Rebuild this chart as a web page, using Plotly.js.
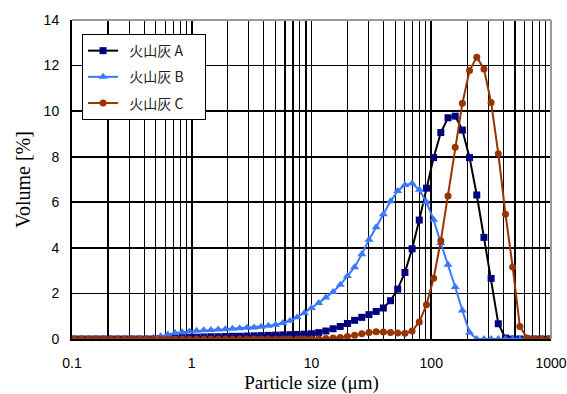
<!DOCTYPE html>
<html>
<head>
<meta charset="utf-8">
<script src="https://cdn.plot.ly/plotly-3.0.1.min.js"></script>
<style>html,body{margin:0;padding:0;background:#fff;}#chart{width:567px;height:394px;}</style>
</head>
<body>
<div id="chart"></div>
<script>
// particle size channels (µm)
const sizes = [0.1047,0.1202,0.1380,0.1585,0.1820,0.2089,0.2399,0.2754,0.3162,0.3631,
  0.4169,0.4786,0.5495,0.6310,0.7244,0.8318,0.9550,1.096,1.259,1.445,
  1.660,1.905,2.188,2.512,2.884,3.311,3.802,4.365,5.012,5.754,
  6.607,7.586,8.710,10.00,11.48,13.18,15.14,17.38,19.95,22.91,
  26.30,30.20,34.67,39.81,45.71,52.48,60.26,69.18,79.43,91.20,
  104.7,120.2,138.0,158.5,182.0,208.9,239.9,275.4,316.2,363.1,
  416.9,478.6,549.5,631.0,724.4,831.8,955.0];

const seriesNames = ['火山灰 A','火山灰 B','火山灰 C'];

const volA = [0,0,0,0,0,0,0,0,0,0,
  0,0,0.02,0.04,0.05,0.06,0.07,0.08,0.09,0.10,
  0.10,0.11,0.12,0.12,0.13,0.14,0.15,0.16,0.17,0.18,
  0.19,0.20,0.21,0.23,0.28,0.35,0.45,0.55,0.68,0.82,
  0.95,1.07,1.21,1.36,1.68,2.19,2.92,3.96,5.22,6.62,
  7.96,9.06,9.71,9.78,9.17,7.96,6.32,4.46,2.66,0.67,
  0.04,0,0,0,0,0,0];

const volB = [0,0,0,0,0,0,0,0,0,0,
  0,0.05,0.12,0.20,0.26,0.30,0.33,0.36,0.38,0.40,
  0.42,0.43,0.45,0.47,0.49,0.51,0.54,0.58,0.63,0.70,
  0.80,0.95,1.14,1.36,1.58,1.82,2.06,2.38,2.76,3.15,
  3.72,4.36,4.90,5.48,6.04,6.50,6.76,6.82,6.55,6.00,
  5.23,4.21,3.26,2.28,1.25,0.29,0,0,0,0,
  0,0,0,0,0,0,0];

const volC = [0,0,0,0,0,0,0,0,0,0,
  0,0,0,0,0,0,0,0,0,0,
  0,0,0,0,0,0,0,0,0,0,
  0,0,0,0,0.01,0.02,0.04,0.07,0.11,0.17,
  0.23,0.29,0.32,0.31,0.29,0.26,0.25,0.35,0.75,1.50,
  2.67,4.31,6.28,8.42,10.35,11.78,12.37,11.85,10.38,8.13,
  5.48,3.16,0.55,0.04,0,0,0];

const xTicks = [0.1,1,10,100,1000];
const xTickText = ['0.1','1','10','100','1000'];
const xMinor = [0.2,0.3,0.4,0.5,0.6,0.7,0.8,0.9,2,3,4,5,6,7,8,9,20,30,40,50,60,70,80,90,200,300,400,500,600,700,800,900];
const yTicks = [0,2,4,6,8,10,12,14];

const pad = s => '\u00a0\u00a0' + s.replace(' ', '\u00a0') + '\u00a0\u00a0\u00a0\u00a0\u00a0';

const traces = [
  {x: sizes, y: volA, name: pad(seriesNames[0]), type: 'scatter', mode: 'lines+markers',
   line: {color: '#000000', width: 2}, legendgroup: 'a',
   marker: {symbol: 'square', size: 7, color: '#000080'}},
  {x: sizes, y: volB, name: pad(seriesNames[1]), type: 'scatter', mode: 'lines+markers',
   line: {color: '#3a78ff', width: 2}, legendgroup: 'b',
   marker: {symbol: 'triangle-up', size: 8, color: '#3a78ff'}},
  {x: sizes, y: volC, name: pad(seriesNames[2]), type: 'scatter', mode: 'lines+markers',
   line: {color: '#993300', width: 2}, legendgroup: 'c',
   marker: {symbol: 'circle', size: 7, color: '#993300'}}
];

const layout = {
  width: 567, height: 394,
  margin: {l: 72, r: 16, t: 20, b: 55},
  paper_bgcolor: '#ffffff', plot_bgcolor: '#ffffff',
  showlegend: true,
  legend: {x: 0.021, y: 0.956, xanchor: 'left', yanchor: 'top',
    bgcolor: '#ffffff', bordercolor: '#000000', borderwidth: 1,
    font: {family: '"Noto Sans CJK JP", sans-serif', size: 14, color: '#222'},
    traceorder: 'grouped', tracegroupgap: 5},
  xaxis: {
    type: 'log', range: [-1, 3],
    tickmode: 'array', tickvals: xTicks, ticktext: xTickText,
    showgrid: true, gridcolor: '#000000', gridwidth: 1.8,
    minor: {tickmode: 'array', tickvals: xMinor, showgrid: true, gridcolor: '#000000', gridwidth: 1.2, ticks: ''},
    showline: true, linecolor: '#000000', linewidth: 2, mirror: false,
    ticks: '', zeroline: false, ticklabelstandoff: 10,
    tickfont: {family: '"Liberation Sans", Arial, sans-serif', size: 14, color: '#000'},
    title: {text: 'Particle size (μm)', standoff: 9,
      font: {family: '"Liberation Serif", "Times New Roman", serif', size: 19, color: '#000'}}
  },
  yaxis: {
    range: [0, 14], tickmode: 'array', tickvals: yTicks,
    showgrid: true, gridcolor: '#000000', gridwidth: 1.6,
    showline: true, linecolor: '#000000', linewidth: 2,
    ticks: 'inside', ticklen: 6, tickcolor: '#000', tickwidth: 1.5,
    zeroline: false, ticklabelstandoff: 8,
    tickfont: {family: '"Liberation Sans", Arial, sans-serif', size: 14, color: '#000'},
    title: {text: 'Volume [%]', standoff: 8,
      font: {family: '"Liberation Serif", "Times New Roman", serif', size: 20, color: '#000'}}
  },
  shapes: [
    {type: 'line', xref: 'paper', yref: 'paper', x0: 0, x1: 1, y0: 1, y1: 1, line: {color: '#999999', width: 2}},
    {type: 'line', xref: 'paper', yref: 'paper', x0: 1, x1: 1, y0: 0, y1: 1, line: {color: '#999999', width: 2}}
  ]
};

Plotly.newPlot('chart', traces, layout, {staticPlot: true, displayModeBar: false});
</script>
</body>
</html>
